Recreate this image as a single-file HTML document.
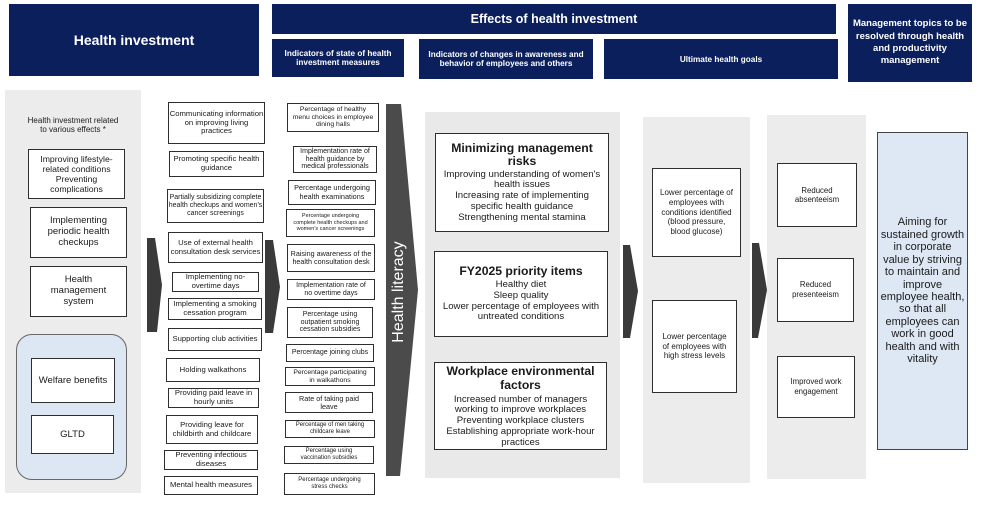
<!DOCTYPE html>
<html><head><meta charset="utf-8"><style>
*{margin:0;padding:0;box-sizing:border-box}
body{width:1000px;height:520px;background:#fff;position:relative;overflow:hidden;font-family:"Liberation Sans",Arial,sans-serif;color:#1a1a1a}
.a{position:absolute}
.h{position:absolute;background:#0b1f5c;color:#fff;font-weight:bold;display:flex;align-items:center;justify-content:center;text-align:center;white-space:nowrap}
.p{position:absolute;background:#ebebeb}
.b{position:absolute;display:flex;align-items:center;justify-content:center;text-align:center;border:1px solid #2e2e2e;background:#fff;white-space:nowrap}
.c2{font-size:7.7px;line-height:8.8px}
.c3{font-size:6.8px;line-height:7.8px}
.m{flex-direction:column;font-size:9.6px;line-height:10.7px}
.m b{font-size:12.2px;line-height:13px;display:block;margin-bottom:2px}
</style></head><body>

<!-- headers -->
<div class="h" style="left:9px;top:4px;width:250px;height:72px;font-size:14px">Health investment</div>
<div class="h" style="left:272px;top:4px;width:564px;height:30px;font-size:12.5px">Effects of health investment</div>
<div class="h" style="left:272px;top:39px;width:132px;height:38px;font-size:8.2px;line-height:9.5px">Indicators of state of health<br>investment measures</div>
<div class="h" style="left:419px;top:39px;width:174px;height:40px;font-size:8.2px;line-height:9.5px">Indicators of changes in awareness and<br>behavior of employees and others</div>
<div class="h" style="left:604px;top:39px;width:234px;height:40px;font-size:8.2px">Ultimate health goals</div>
<div class="h" style="left:848px;top:4px;width:124px;height:78px;font-size:9.5px;line-height:12.3px">Management topics to be<br>resolved through health<br>and productivity<br>management</div>

<!-- left panel -->
<div class="p" style="left:5px;top:90px;width:136px;height:403px;background:#ececec"></div>
<div class="a" style="left:5px;top:117px;width:136px;text-align:center;font-size:8px;line-height:8.6px">Health investment related<br>to various effects *</div>
<div class="b" style="left:28px;top:149px;width:97px;height:50px;font-size:8.7px;line-height:10px">Improving lifestyle-<br>related conditions<br>Preventing<br>complications</div>
<div class="b" style="left:30px;top:207px;width:97px;height:51px;font-size:9.5px;line-height:10.8px">Implementing<br>periodic health<br>checkups</div>
<div class="b" style="left:30px;top:266px;width:97px;height:51px;font-size:9.5px;line-height:10.8px">Health<br>management<br>system</div>
<div class="a" style="left:16px;top:334px;width:111px;height:146px;border:1px solid #666;border-radius:16px;background:#dce7f3"></div>
<div class="b" style="left:31px;top:358px;width:84px;height:45px;font-size:9.5px">Welfare benefits</div>
<div class="b" style="left:31px;top:415px;width:83px;height:39px;font-size:9.5px">GLTD</div>

<!-- column 2 -->
<div class="b c2" style="left:168px;top:102px;width:97px;height:42px">Communicating information<br>on improving living<br>practices</div>
<div class="b c2" style="left:169px;top:151px;width:95px;height:26px">Promoting specific health<br>guidance</div>
<div class="b" style="left:167px;top:189px;width:97px;height:34px;font-size:7px;line-height:8.2px">Partially subsidizing complete<br>health checkups and women's<br>cancer screenings</div>
<div class="b c2" style="left:168px;top:232px;width:95px;height:31px">Use of external health<br>consultation desk services</div>
<div class="b c2" style="left:172px;top:272px;width:87px;height:20px">Implementing no-<br>overtime days</div>
<div class="b c2" style="left:168px;top:298px;width:94px;height:22px">Implementing a smoking<br>cessation program</div>
<div class="b c2" style="left:168px;top:328px;width:94px;height:23px">Supporting club activities</div>
<div class="b c2" style="left:166px;top:358px;width:94px;height:24px">Holding walkathons</div>
<div class="b c2" style="left:168px;top:388px;width:91px;height:20px">Providing paid leave in<br>hourly units</div>
<div class="b c2" style="left:166px;top:415px;width:92px;height:29px">Providing leave for<br>childbirth and childcare</div>
<div class="b c2" style="left:164px;top:450px;width:94px;height:20px">Preventing infectious<br>diseases</div>
<div class="b c2" style="left:164px;top:476px;width:94px;height:19px">Mental health measures</div>

<!-- column 3 -->
<div class="b c3" style="left:287px;top:103px;width:92px;height:29px">Percentage of healthy<br>menu choices in employee<br>dining halls</div>
<div class="b c3" style="left:293px;top:146px;width:84px;height:27px;font-size:7px">Implementation rate of<br>health guidance by<br>medical professionals</div>
<div class="b c3" style="left:288px;top:180px;width:88px;height:25px;font-size:7.3px;line-height:8.4px">Percentage undergoing<br>health examinations</div>
<div class="b" style="left:286px;top:209px;width:89px;height:28px;font-size:5.5px;line-height:6.6px">Percentage undergoing<br>complete health checkups and<br>women's cancer screenings</div>
<div class="b c3" style="left:287px;top:244px;width:88px;height:28px;font-size:7.2px;line-height:8.2px">Raising awareness of the<br>health consultation desk</div>
<div class="b c3" style="left:287px;top:279px;width:88px;height:21px;font-size:7px">Implementation rate of<br>no overtime days</div>
<div class="b c3" style="left:287px;top:307px;width:86px;height:31px;font-size:7px">Percentage using<br>outpatient smoking<br>cessation subsidies</div>
<div class="b c3" style="left:286px;top:344px;width:88px;height:18px;font-size:7px">Percentage joining clubs</div>
<div class="b c3" style="left:285px;top:367px;width:90px;height:19px">Percentage participating<br>in walkathons</div>
<div class="b c3" style="left:285px;top:392px;width:88px;height:21px;font-size:7.2px">Rate of taking paid<br>leave</div>
<div class="b c3" style="left:285px;top:420px;width:90px;height:18px;font-size:6px;line-height:7px">Percentage of men taking<br>childcare leave</div>
<div class="b c3" style="left:284px;top:446px;width:90px;height:18px;font-size:6px;line-height:7px">Percentage using<br>vaccination subsidies</div>
<div class="b c3" style="left:284px;top:473px;width:91px;height:22px;font-size:6px;line-height:7.4px">Percentage undergoing<br>stress checks</div>

<!-- shapes -->
<svg class="a" style="left:0;top:0" width="1000" height="520">
<polygon points="386,104 401,104 418,290 400,476 386,476" fill="#4b4b4b"/>
<polygon points="147,238 155,238 162,285 157,332 147,332" fill="#3a3a3a"/>
<polygon points="265,240 273,240 280,287 273,333 265,333" fill="#3a3a3a"/>
<polygon points="623,245 630,245 638,291 630,338 623,338" fill="#3a3a3a"/>
<polygon points="752,243 759,243 767,290 758,338 752,338" fill="#3a3a3a"/>
<text x="0" y="0" transform="translate(403,292) rotate(-90)" text-anchor="middle" fill="#fff" font-family="Liberation Sans, Arial, sans-serif" font-size="16">Health literacy</text>
</svg>

<!-- middle panel -->
<div class="p" style="left:425px;top:112px;width:195px;height:366px;background:#e9e9e9"></div>
<div class="b m" style="left:435px;top:133px;width:174px;height:99px"><b>Minimizing management<br>risks</b>Improving understanding of women's<br>health issues<br>Increasing rate of implementing<br>specific health guidance<br>Strengthening mental stamina</div>
<div class="b m" style="left:434px;top:251px;width:174px;height:86px"><b>FY2025 priority items</b>Healthy diet<br>Sleep quality<br>Lower percentage of employees with<br>untreated conditions</div>
<div class="b m" style="left:434px;top:362px;width:173px;height:88px"><b style="line-height:14.5px">Workplace environmental<br>factors</b>Increased number of managers<br>working to improve workplaces<br>Preventing workplace clusters<br>Establishing appropriate work-hour<br>practices</div>

<!-- panel 4 -->
<div class="p" style="left:643px;top:117px;width:107px;height:366px;background:#ececec"></div>
<div class="b" style="left:652px;top:168px;width:89px;height:89px;font-size:8px;line-height:9.8px">Lower percentage of<br>employees with<br>conditions identified<br>(blood pressure,<br>blood glucose)</div>
<div class="b" style="left:652px;top:300px;width:85px;height:93px;font-size:8px;line-height:9.8px">Lower percentage<br>of employees with<br>high stress levels</div>

<!-- panel 5 -->
<div class="p" style="left:767px;top:115px;width:99px;height:364px;background:#ececec"></div>
<div class="b" style="left:777px;top:163px;width:80px;height:64px;font-size:7.8px;line-height:9.4px">Reduced<br>absenteeism</div>
<div class="b" style="left:777px;top:258px;width:77px;height:64px;font-size:7.8px;line-height:10.5px">Reduced<br>presenteeism</div>
<div class="b" style="left:777px;top:356px;width:78px;height:62px;font-size:7.8px;line-height:10px">Improved work<br>engagement</div>

<!-- final -->
<div class="b" style="left:877px;top:132px;width:91px;height:318px;background:#dee8f5;border-color:#444;font-size:11px;line-height:12.45px">Aiming for<br>sustained growth<br>in corporate<br>value by striving<br>to maintain and<br>improve<br>employee health,<br>so that all<br>employees can<br>work in good<br>health and with<br>vitality</div>

</body></html>
